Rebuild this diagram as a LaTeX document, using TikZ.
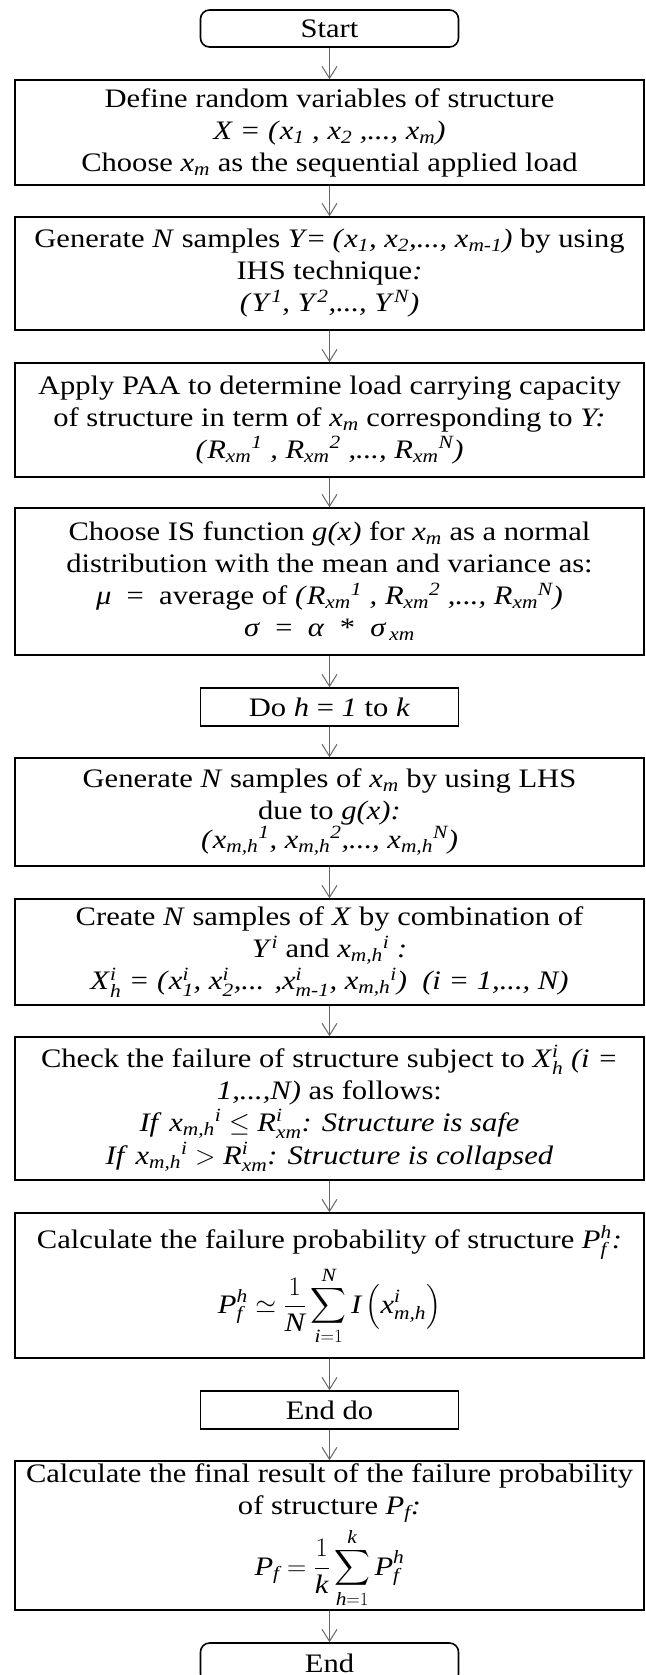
\documentclass[tikz,border=0pt]{standalone}
\usepackage{fix-cm}
\usepackage{amsmath}
\usepackage{fontspec}
\setmainfont{Liberation Serif}[FakeStretch=1.145]
\usetikzlibrary{arrows.meta}
\newcommand\I[1]{\textit{#1}}
\newcommand\sbs[2]{\I{#1}$_{\I{#2}}$}
\newcommand\sbsp[3]{\I{#1}$_{\I{#2}}^{\I{#3}}$}
\newcommand\wsp[3]{\I{#1}$_{\I{#2}}{}^{\I{#3}}$}
\newcommand\spx[2]{\I{#1}$^{\I{#2}}$}
\newcommand\Rxm[1]{\I{R}$_{\I{xm}}{}^{\I{#1}}$}
\begin{document}
\begin{tikzpicture}[x=1pt,y=-1pt,
  every node/.style={font=\fontsize{26.7}{32}\selectfont, inner sep=2pt},
  box/.style={draw, line width=1.6pt, minimum width=629pt, align=center},
  sbox/.style={draw, line width=1.6pt, minimum width=258pt, align=center},
  term/.style={sbox, rounded corners=9pt},
  arr/.style={draw=black!60, line width=1pt, -{Straight Barb[length=12pt,width=15pt]}}
]
\useasboundingbox (0,0) rectangle (645,1675);

\node[term, minimum height=37pt] (start) at (329.5,28.5) {Start};

\node[box, minimum height=105pt] (b1) at (329.5,132.5) {Define random variables of structure\\
\I{X = (}\sbs{x}{1}\I{ , }\sbs{x}{2}\I{ ,..., }\sbs{x}{m}\I{)}\\
Choose \sbs{x}{m} as the sequential applied load};

\node[box, minimum height=113pt] (b2) at (329.5,273.5) {Generate \I{N} samples \I{Y}= \I{(}\sbs{x}{1}\I{, }\sbs{x}{2}\I{,..., }\sbs{x}{m-1}\I{)} by using\\
IHS technique\I{:}\\
\I{(}\spx{Y}{1}\I{, }\spx{Y}{2}\I{,..., }\spx{Y}{N}\I{)}};

\node[box, minimum height=114pt] (b3) at (329.5,420) {Apply PAA to determine load carrying capacity\\
of structure in term of \sbs{x}{m} corresponding to \I{Y:}\\
\I{(}\Rxm{1}\I{ , }\Rxm{2}\I{ ,..., }\Rxm{N}\I{)}};

\node[box, minimum height=147pt] (b4) at (329.5,581.5) {Choose IS function \I{g(x)} for \sbs{x}{m} as a normal\\
distribution with the mean and variance as:\\
\I{μ}\ \ =\ \ average of \I{(}\Rxm{1}\I{ , }\Rxm{2}\I{ ,..., }\Rxm{N}\I{)}\\
\I{σ}\ \ =\ \ \I{α}\ \ *\ \ \I{σ}$_{\I{\,xm}}$};

\node[sbox, minimum height=38pt] (do) at (329.5,707) {Do \I{h} = \I{1} to \I{k}};

\node[box, minimum height=108pt] (b5) at (329.5,812) {Generate \I{N} samples of \sbs{x}{m} by using LHS\\
due to \I{g(x):}\\[-3pt]
\I{(}\wsp{x}{m,h}{1}\I{, }\wsp{x}{m,h}{2}\I{,..., }\wsp{x}{m,h}{N}\I{)}};

\node[box, minimum height=106pt] (b6) at (329.5,952) {Create \I{N} samples of \I{X} by combination of\\
\spx{Y}{i} and \wsp{x}{m,h}{i}\I{ :}\\
\sbsp{X}{h}{i}\I{ = (}\sbsp{x}{1}{i}\I{, }\sbsp{x}{2}{i}\I{,... ,}\sbsp{x}{m-1}{i}\I{, }\wsp{x}{m,h}{i}\I{)\ \ (i = 1,..., N)}};

\node[box, minimum height=143pt] (b7) at (329.5,1108.5) {Check the failure of structure subject to \sbsp{X}{h}{i}\I{ (i =}\\
\I{1,...,N)} as follows:\\
\I{If }\wsp{x}{m,h}{i}\ $\le$\ \sbsp{R}{xm}{i}\I{: Structure is safe}\\[1pt]
\I{If }\wsp{x}{m,h}{i}\ $>$\ \sbsp{R}{xm}{i}\I{: Structure is collapsed}};

\node[box, minimum height=145pt] (b8) at (329.5,1285.5) {Calculate the failure probability of structure \sbsp{P}{f}{h}\I{:}\\[6pt]
$\displaystyle \I{P}^{\I{h}}_{\I{f}} \simeq \frac{1}{\I{N}}\sum_{\I{i}=1}^{\I{N}} \I{I}\left(\I{x}^{\I{i}}_{\I{m,h}}\right)$\rule[-24pt]{0pt}{24pt}};

\node[sbox, minimum height=38pt] (enddo) at (329.5,1410) {End do};

\node[box, minimum height=149pt] (b9) at (329.5,1535.5) {Calculate the final result of the failure probability\\
of structure \sbs{P}{f}\I{:}\\[5pt]
$\displaystyle \I{P}_{\I{f}} = \frac{1}{\I{k}}\sum_{\I{h}=1}^{\I{k}} \I{P}^{\I{h}}_{\I{f}}$};

\node[term, minimum height=40pt] (end) at (329.5,1663) {End};

\draw[arr] (start) -- (b1);
\draw[arr] (b1) -- (b2);
\draw[arr] (b2) -- (b3);
\draw[arr] (b3) -- (b4);
\draw[arr] (b4) -- (do);
\draw[arr] (do) -- (b5);
\draw[arr] (b5) -- (b6);
\draw[arr] (b6) -- (b7);
\draw[arr] (b7) -- (b8);
\draw[arr] (b8) -- (enddo);
\draw[arr] (enddo) -- (b9);
\draw[arr] (b9) -- (end);
\end{tikzpicture}
\end{document}
